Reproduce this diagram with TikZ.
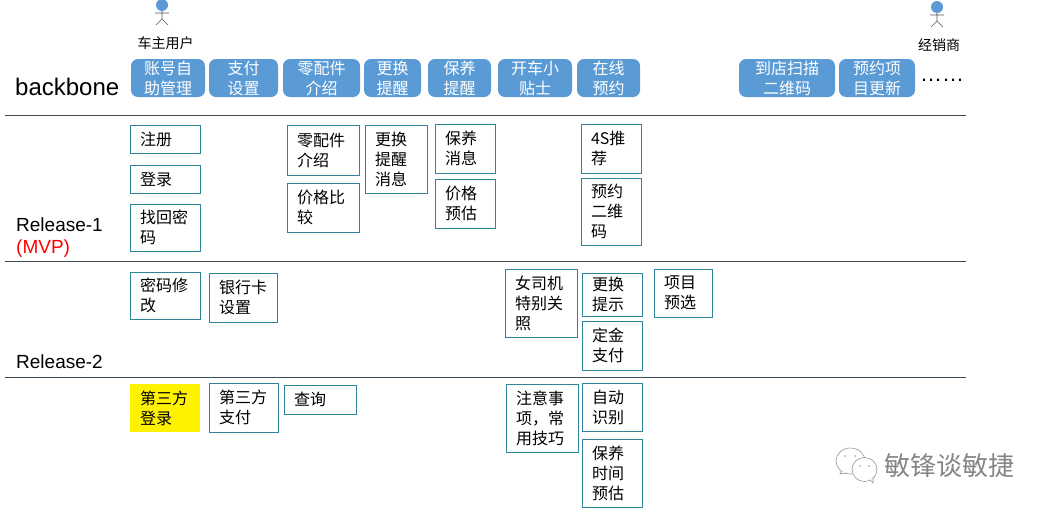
\documentclass[tikz,border=0pt]{standalone}
\usepackage{fontspec}
\setmainfont{Noto Sans CJK SC}
\newfontfamily\latfont{Liberation Sans}
\definecolor{bbblue}{HTML}{5B9BD5}
\definecolor{boxline}{HTML}{31859B}
\definecolor{ruleline}{HTML}{3B4A55}
\tikzset{
  x=1pt,y=-1pt,
  cjktext/.style={font=\fontsize{16}{20}\selectfont,inner sep=0pt,outer sep=0pt},
  backbonebox/.style={cjktext,fill=bbblue,text=white,rounded corners=7pt,align=center},
  storybox/.style={cjktext,draw=boxline,line width=0.9pt,fill=white,text=black,align=left},
  yellowbox/.style={cjktext,fill=yellow,text=black,align=left},
  sidelabel/.style={font=\latfont\fontsize{19}{20}\selectfont,anchor=west,inner sep=0pt},
  rulerline/.style={draw=ruleline,line width=0.9pt},
  actorlabel/.style={font=\fontsize{14}{16}\selectfont,inner sep=0pt},
  actorhead/.style={circle,fill=bbblue,inner sep=0pt,minimum size=12pt},
  actorline/.style={draw=black!65,line width=0.6pt},
  bubble/.style={draw=black!42,line width=0.6pt,fill=white},
  bubbleeye/.style={circle,fill=black!42,inner sep=0pt,minimum size=1.6pt},
}
% name, x0, y0, x1, y1, style, text
\newcommand{\rbox}[7]{%
  \node[#6,minimum width={#4-#2},minimum height={#5-#3}] (#1) at ({(#2+#4)/2},{(#3+#5)/2}) {#7};}
% left-aligned story box: text is inset from the left edge
\newcommand{\storyb}[7]{%
  \node[#6,minimum width={#4-#2-1},minimum height={#5-#3-1},text width={#4-#2-21},inner xsep=10pt] (#1) at ({(#2+#4-1)/2},{(#3+#5-1)/2}) {#7};}
\newcommand{\actor}[3]{%
  \node[actorhead] (#1) at (#2,#3) {};
  \draw[actorline] (#2,#3+6) -- (#2,#3+14) (#2-7,#3+8) -- (#2+7,#3+8)
    (#2-6,#3+20) -- (#2,#3+14) -- (#2+6,#3+20);}
\begin{document}
\begin{tikzpicture}
\useasboundingbox[fill=white] (0,0) rectangle (1047,512);
\begin{scope}
\clip (0,0) rectangle (1047,512);
\actor{userhead}{162}{5}
\actor{dealerhead}{937}{7}
\end{scope}
\node[actorlabel] (userlabel) at (165.5,43) {车主用户};
\node[actorlabel] (dealerlabel) at (939,45) {经销商};

\rbox{b1}{131}{59}{205}{97}{backbonebox}{账号自\\助管理}
\rbox{b2}{209}{59}{278}{97}{backbonebox}{支付\\设置}
\rbox{b3}{283}{59}{360}{97}{backbonebox}{零配件\\介绍}
\rbox{b4}{364}{59}{421}{97}{backbonebox}{更换\\提醒}
\rbox{b5}{428}{59}{491}{97}{backbonebox}{保养\\提醒}
\rbox{b6}{498}{59}{572}{97}{backbonebox}{开车小\\贴士}
\rbox{b7}{577}{59}{640}{97}{backbonebox}{在线\\预约}
\rbox{b8}{739}{59}{835}{97}{backbonebox}{到店扫描\\二维码}
\rbox{b9}{839}{59}{915}{97}{backbonebox}{预约项\\目更新}
\node[font=\latfont\fontsize{22}{24}\selectfont,inner sep=0pt] (dots) at (942,80) {……};

\node[font=\latfont\fontsize{24}{26}\selectfont,anchor=west,inner sep=0pt] (backbone) at (15,87) {backbone};
\node[sidelabel] (rel1) at (16,225) {Release-1};
\node[sidelabel,text=red] (mvp) at (16,249) {(MVP)};
\node[sidelabel] (rel2) at (16,362) {Release-2};

\coordinate (l1a) at (5,115); \coordinate (l1b) at (966,115);
\coordinate (l2a) at (5,261.5); \coordinate (l2b) at (966,261.5);
\coordinate (l3a) at (5,377); \coordinate (l3b) at (966,377);
\draw[rulerline] (l1a) -- (l1b);
\draw[rulerline] (l2a) -- (l2b);
\draw[rulerline] (l3a) -- (l3b);

\storyb{s1}{130}{125}{201}{154}{storybox}{注册}
\storyb{s2}{130}{165}{201}{194}{storybox}{登录}
\storyb{s3}{130}{204}{201}{252}{storybox}{找回密\\码}
\storyb{s4}{287}{125}{360}{176}{storybox}{零配件\\介绍}
\storyb{s5}{287}{183}{360}{233}{storybox}{价格比\\较}
\storyb{s6}{365}{125}{428}{194}{storybox}{更换\\提醒\\消息}
\storyb{s7}{435}{124}{496}{174}{storybox}{保养\\消息}
\storyb{s8}{435}{179}{496}{229}{storybox}{价格\\预估}
\storyb{s9}{581}{124}{642}{174}{storybox}{4S推\\荐}
\storyb{s10}{581}{178}{642}{246}{storybox}{预约\\二维\\码}

\storyb{s11}{130}{272}{201}{320}{storybox}{密码修\\改}
\storyb{s12}{209}{273}{278}{323}{storybox}{银行卡\\设置}
\storyb{s13}{505}{269}{578}{338}{storybox}{女司机\\特别关\\照}
\storyb{s14}{582}{273}{643}{317}{storybox}{更换\\提示}
\storyb{s15}{654}{269}{713}{318}{storybox}{项目\\预选}
\storyb{s16}{582}{321}{643}{371}{storybox}{定金\\支付}

\node[yellowbox,minimum width=70,minimum height=48,text width=50,inner xsep=10pt] (s17) at (165,408) {第三方\\登录};
\storyb{s18}{209}{383}{279}{433}{storybox}{第三方\\支付}
\storyb{s19}{284}{385}{357}{415}{storybox}{查询}
\storyb{s20}{506}{384}{579}{453}{storybox}{注意事\\项，常\\用技巧}
\storyb{s21}{582}{383}{643}{432}{storybox}{自动\\识别}
\storyb{s22}{582}{439}{643}{508}{storybox}{保养\\时间\\预估}

% watermark
\draw[bubble] (850.5,461) ellipse (14.5 and 13);
\draw[bubble] (842,471) -- (840,474) -- (847,473);
\node[bubbleeye] (eye1) at (845,456) {};
\node[bubbleeye] (eye2) at (855,456) {};
\draw[bubble] (864.5,469.5) ellipse (12.5 and 12);
\draw[bubble] (870,480) -- (873,483) -- (873,477);
\node[bubbleeye] (eye3) at (860,466) {};
\node[bubbleeye] (eye4) at (869,466) {};
\node[font=\fontsize{26}{28}\selectfont,text=black!48,inner sep=0pt] (watermark) at (949.5,466) {敏锋谈敏捷};
\end{tikzpicture}
\end{document}
